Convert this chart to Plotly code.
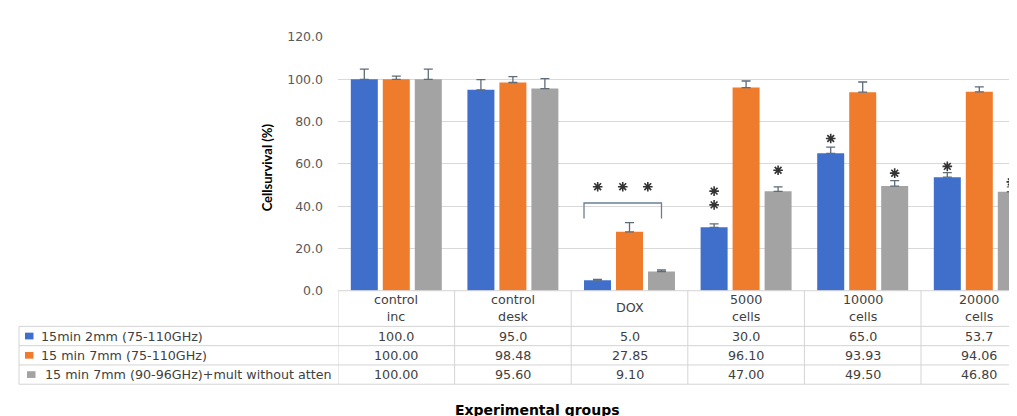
import plotly.graph_objects as go

# ---------------- data ----------------
categories = ["control<br>inc", "control<br>desk", "DOX", "5000<br>cells", "10000<br>cells", "20000<br>cells"]
series_names = ["15min 2mm (75-110GHz)", "15 min 7mm (75-110GHz)", "15 min 7mm (90-96GHz)+mult without atten"]
s1_vals = [100.0, 95.0, 5.0, 30.0, 65.0, 53.7]
s2_vals = [100.00, 98.48, 27.85, 96.10, 93.93, 94.06]
s3_vals = [100.00, 95.60, 9.10, 47.00, 49.50, 46.80]
s1_err = [4.8, 4.8, 0.3, 1.6, 2.9, 2.2]
s2_err = [1.5, 2.8, 4.4, 3.1, 4.8, 2.4]
s3_err = [4.8, 4.7, 0.8, 2.1, 2.6, 2.3]
decimals = [1, 2, 2]
y_ticks = [0, 20, 40, 60, 80, 100, 120]
# significance marks: (category index, series index, y value of star)
stars_cat = [3, 3, 3, 4, 4, 5, 5]
stars_ser = [0, 0, 2, 0, 2, 0, 2]
stars_y = [47.1, 40.6, 57.0, 72.0, 55.6, 58.8, 51.5]
# DOX bracket with three stars
bracket_cat = 2
bracket_low, bracket_high, bracket_star_y = 34.2, 41.5, 49.2

colors = ["#3F6FCA", "#EF7B2D", "#A3A3A3"]
W, H = 1017, 416
FONT = "DejaVu Sans"
TXT = "#404040"
TSIZE = 12.7

# ---------------- geometry (pixels) ----------------
col0_px, col_w = 330.0, 116.6
y0_px, ytop_px = 285.0, 21.8
bargap, bargroupgap = 0.177, 0.156
slot = (1 - bargap) / 3


def px(x):
    return x / W


def py(y):
    return 1 - y / H


x_idx = list(range(len(categories)))
x_range = [-0.5, -0.5 + (W - col0_px) / col_w]

fig = go.Figure()
all_vals = [s1_vals, s2_vals, s3_vals]
all_err = [s1_err, s2_err, s3_err]
for k in range(3):
    fig.add_trace(go.Bar(
        x=x_idx, y=all_vals[k], name=series_names[k],
        marker=dict(color=colors[k], line=dict(width=0)),
        error_y=dict(type="data", symmetric=False, array=all_err[k],
                     arrayminus=[0] * len(categories),
                     color="#5E6B78", thickness=1.3, width=4.5),
        showlegend=False,
    ))

# significance stars (as asterisk markers)
bl = bracket_cat - 1.5 * slot + slot * bargroupgap / 2
br = bracket_cat + slot
bc = (bl + br) / 2
star_x = [c + (s - 1) * slot for c, s in zip(stars_cat, stars_ser)] + [bc - 0.215, bc, bc + 0.215]
star_y = stars_y + [bracket_star_y] * 3
fig.add_trace(go.Scatter(
    x=star_x, y=star_y, mode="markers", hoverinfo="skip", showlegend=False,
    marker=dict(symbol="asterisk-open", size=8, color="#333333",
                line=dict(width=1.6, color="#333333")),
))

shapes = []
annotations = []
LINE = dict(color="#D4D4D4", width=1)

# DOX bracket
shapes.append(dict(type="path", xref="x", yref="y",
                   path=f"M {bl},{bracket_low} L {bl},{bracket_high} L {br},{bracket_high} L {br},{bracket_low}",
                   line=dict(color="#6A7D95", width=1.3)))

# table horizontal lines
row_lines = [322, 342, 362, 382]
for yl in row_lines:
    shapes.append(dict(type="line", xref="paper", yref="paper",
                       x0=px(11), x1=1, y0=py(yl), y1=py(yl), line=LINE))
# zero line of plot / table top
shapes.append(dict(type="line", xref="paper", yref="paper",
                   x0=px(col0_px), x1=1, y0=py(y0_px), y1=py(y0_px), line=LINE))
# vertical table lines
shapes.append(dict(type="line", xref="paper", yref="paper",
                   x0=px(11), x1=px(11), y0=py(322), y1=py(382), line=LINE))
for i in range(len(categories) + 1):
    shapes.append(dict(type="line", xref="x", yref="paper",
                       x0=i - 0.5, x1=i - 0.5, y0=py(y0_px), y1=py(382), line=LINE))

# header texts
for i, c in enumerate(categories):
    annotations.append(dict(x=i, y=py(302.5), xref="x", yref="paper",
                            text=c, showarrow=False, xanchor="center", yanchor="middle",
                            font=dict(family=FONT, size=TSIZE, color=TXT)))
# value rows + row labels
row_centers = [332, 352, 372]
for k in range(3):
    for i in range(len(categories)):
        annotations.append(dict(x=i, y=py(row_centers[k]), xref="x", yref="paper",
                                text=f"{all_vals[k][i]:.{decimals[k]}f}",
                                showarrow=False, xanchor="center", yanchor="middle",
                                font=dict(family=FONT, size=TSIZE, color=TXT)))
    key_x0 = 17 if k < 2 else 19
    shapes.append(dict(type="rect", xref="paper", yref="paper",
                       x0=px(key_x0), x1=px(key_x0 + 8.5),
                       y0=py(row_centers[k] + 3.5), y1=py(row_centers[k] - 3.5),
                       fillcolor=colors[k], line=dict(width=0)))
    annotations.append(dict(x=px(31 if k < 2 else 35), y=py(row_centers[k]),
                            xref="paper", yref="paper", text=series_names[k],
                            showarrow=False, xanchor="left", yanchor="middle",
                            font=dict(family=FONT, size=TSIZE, color=TXT)))

# axis titles
annotations.append(dict(x=px(259), y=py(157), xref="paper", yref="paper",
                        text="<b>Cellsurvival (%)</b>", showarrow=False, textangle=-90,
                        xanchor="center", yanchor="middle",
                        font=dict(family="Lato", size=13, color="#000000")))
annotations.append(dict(x=px(529), y=py(409), xref="paper", yref="paper",
                        text="<b>Experimental groups</b>", showarrow=False,
                        xanchor="center", yanchor="middle",
                        font=dict(family=FONT, size=14, color="#000000")))

fig.update_layout(
    width=W, height=H,
    margin=dict(l=0, r=0, t=0, b=0),
    paper_bgcolor="white", plot_bgcolor="white",
    barmode="group", bargap=bargap, bargroupgap=bargroupgap,
    xaxis=dict(domain=[px(col0_px), 1], range=x_range, showticklabels=False,
               showgrid=False, zeroline=False, showline=False, ticks=""),
    yaxis=dict(domain=[py(y0_px), py(ytop_px)], range=[0, 120],
               tickvals=y_ticks, ticktext=[f"{v:.1f}" for v in y_ticks],
               showgrid=True, gridcolor="#D9D9D9", gridwidth=1,
               zeroline=False, showline=False, ticks="",
               ticklabelstandoff=14,
               tickfont=dict(family=FONT, size=12.5, color="#595959")),
    shapes=shapes, annotations=annotations,
)

fig.write_html("out.html")
